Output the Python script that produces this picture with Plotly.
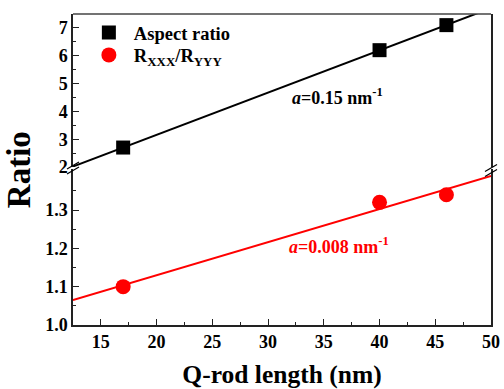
import numpy as np
import plotly.graph_objects as go

# Data
qrod_length = [17, 40, 46]
aspect_ratio = [2.7, 6.2, 7.1]
r_ratio = [1.10, 1.32, 1.34]
x_ticks = [15, 20, 25, 30, 35, 40, 45, 50]
top_ticks = [2, 3, 4, 5, 6, 7]
bottom_ticks = [1.0, 1.1, 1.2, 1.3]

FONT = "Liberation Serif"

# linear fits
xfit = np.array([12.5, 50.0])
p1 = np.polyfit(qrod_length, aspect_ratio, 1)
p2 = np.polyfit(qrod_length, r_ratio, 1)

fig = go.Figure()
fig.add_trace(go.Scatter(x=xfit, y=np.polyval(p1, xfit), mode="lines",
                         line=dict(color="black", width=2), yaxis="y2",
                         showlegend=False, hoverinfo="skip"))
fig.add_trace(go.Scatter(x=xfit, y=np.polyval(p2, xfit), mode="lines",
                         line=dict(color="#ff0000", width=2), yaxis="y",
                         showlegend=False, hoverinfo="skip"))
fig.add_trace(go.Scatter(x=qrod_length, y=aspect_ratio, mode="markers",
                         marker=dict(symbol="square", size=14, color="black"),
                         yaxis="y2", name="<b>Aspect ratio</b>", cliponaxis=False,
                         legend="legend"))
fig.add_trace(go.Scatter(x=qrod_length, y=r_ratio, mode="markers",
                         marker=dict(symbol="circle", size=15, color="#ff0000"),
                         yaxis="y", name="<b>R<sub>XXX</sub>/R<sub>YYY</sub></b>",
                         legend="legend2"))

tickfont = dict(family=FONT, size=18, color="black")
common = dict(showline=True, linecolor="#222", linewidth=1.5, ticks="inside",
              tickcolor="#222", tickwidth=1.2, ticklen=6, showgrid=False,
              zeroline=False, tickfont=tickfont, automargin=False)

def bold(vals, fmt="{}"):
    return ["<b>" + fmt.format(v) + "</b>" for v in vals]

legend_common = dict(x=0.026, xanchor="left", bgcolor="rgba(0,0,0,0)",
                     font=dict(family=FONT, size=18.5), itemsizing="trace", itemwidth=40)

fig.update_layout(
    width=504, height=389,
    margin=dict(l=73, r=13, t=14, b=64),
    plot_bgcolor="white", paper_bgcolor="white",
    font=dict(family=FONT, size=16, color="black"),
    xaxis=dict(range=[12.5, 50], tickvals=x_ticks, ticktext=bold(x_ticks), anchor="y",
               minor=dict(dtick=2.5, tick0=0, ticks="inside", ticklen=3, tickcolor="#222"),
               title=dict(text="<b>Q-rod length (nm)</b>", font=dict(family=FONT, size=25.5),
                          standoff=14),
               **common),
    yaxis=dict(domain=[0, 0.5016], range=[1.0, 1.407], tickvals=bottom_ticks,
               ticktext=bold(bottom_ticks, "{:.1f}"), mirror=True,
               minor=dict(tickvals=[1.05, 1.15, 1.25, 1.35], ticks="inside", ticklen=3, tickcolor="#222"),
               **common),
    yaxis2=dict(domain=[0.508, 1], range=[2, 7.5], tickvals=top_ticks,
                ticktext=bold(top_ticks), mirror=True,
                minor=dict(dtick=0.5, tick0=0, ticks="inside", ticklen=3, tickcolor="#222"),
                **common),
    legend=dict(y=1.0, yanchor="top", **legend_common),
    legend2=dict(y=0.867, yanchor="middle", **legend_common),
    showlegend=True,
)

# top border line
fig.add_shape(type="line", xref="paper", yref="paper", x0=0, x1=1, y0=1, y1=1,
              line=dict(color="#444", width=1.5))

# axis break marks
for xp, yc in [(0, 0.5048), (1, 0.4968)]:
    for dy in (-2.5, 2.5):
        fig.add_shape(type="line", xref="paper", yref="paper",
                      xsizemode="pixel", ysizemode="pixel", xanchor=xp, yanchor=yc,
                      x0=-6, x1=6, y0=dy - 3.5, y1=dy + 3.5,
                      line=dict(color="black", width=1.2))

fig.add_annotation(text="<b>Ratio</b>", xref="paper", yref="paper", x=-0.13, y=0.5,
                   xanchor="center", textangle=-90, showarrow=False,
                   font=dict(family=FONT, size=33))
fig.add_annotation(text="<b><i>a</i>=0.15 nm<sup>-1</sup></b>", xref="x", yref="y2",
                   x=36.2, y=4.52, showarrow=False,
                   font=dict(family=FONT, size=18, color="black"))
fig.add_annotation(text="<b><i>a</i>=0.008 nm<sup>-1</sup></b>", xref="x", yref="y",
                   x=36.4, y=1.208, showarrow=False,
                   font=dict(family=FONT, size=18, color="#ff0000"))

fig.write_html("out.html")
